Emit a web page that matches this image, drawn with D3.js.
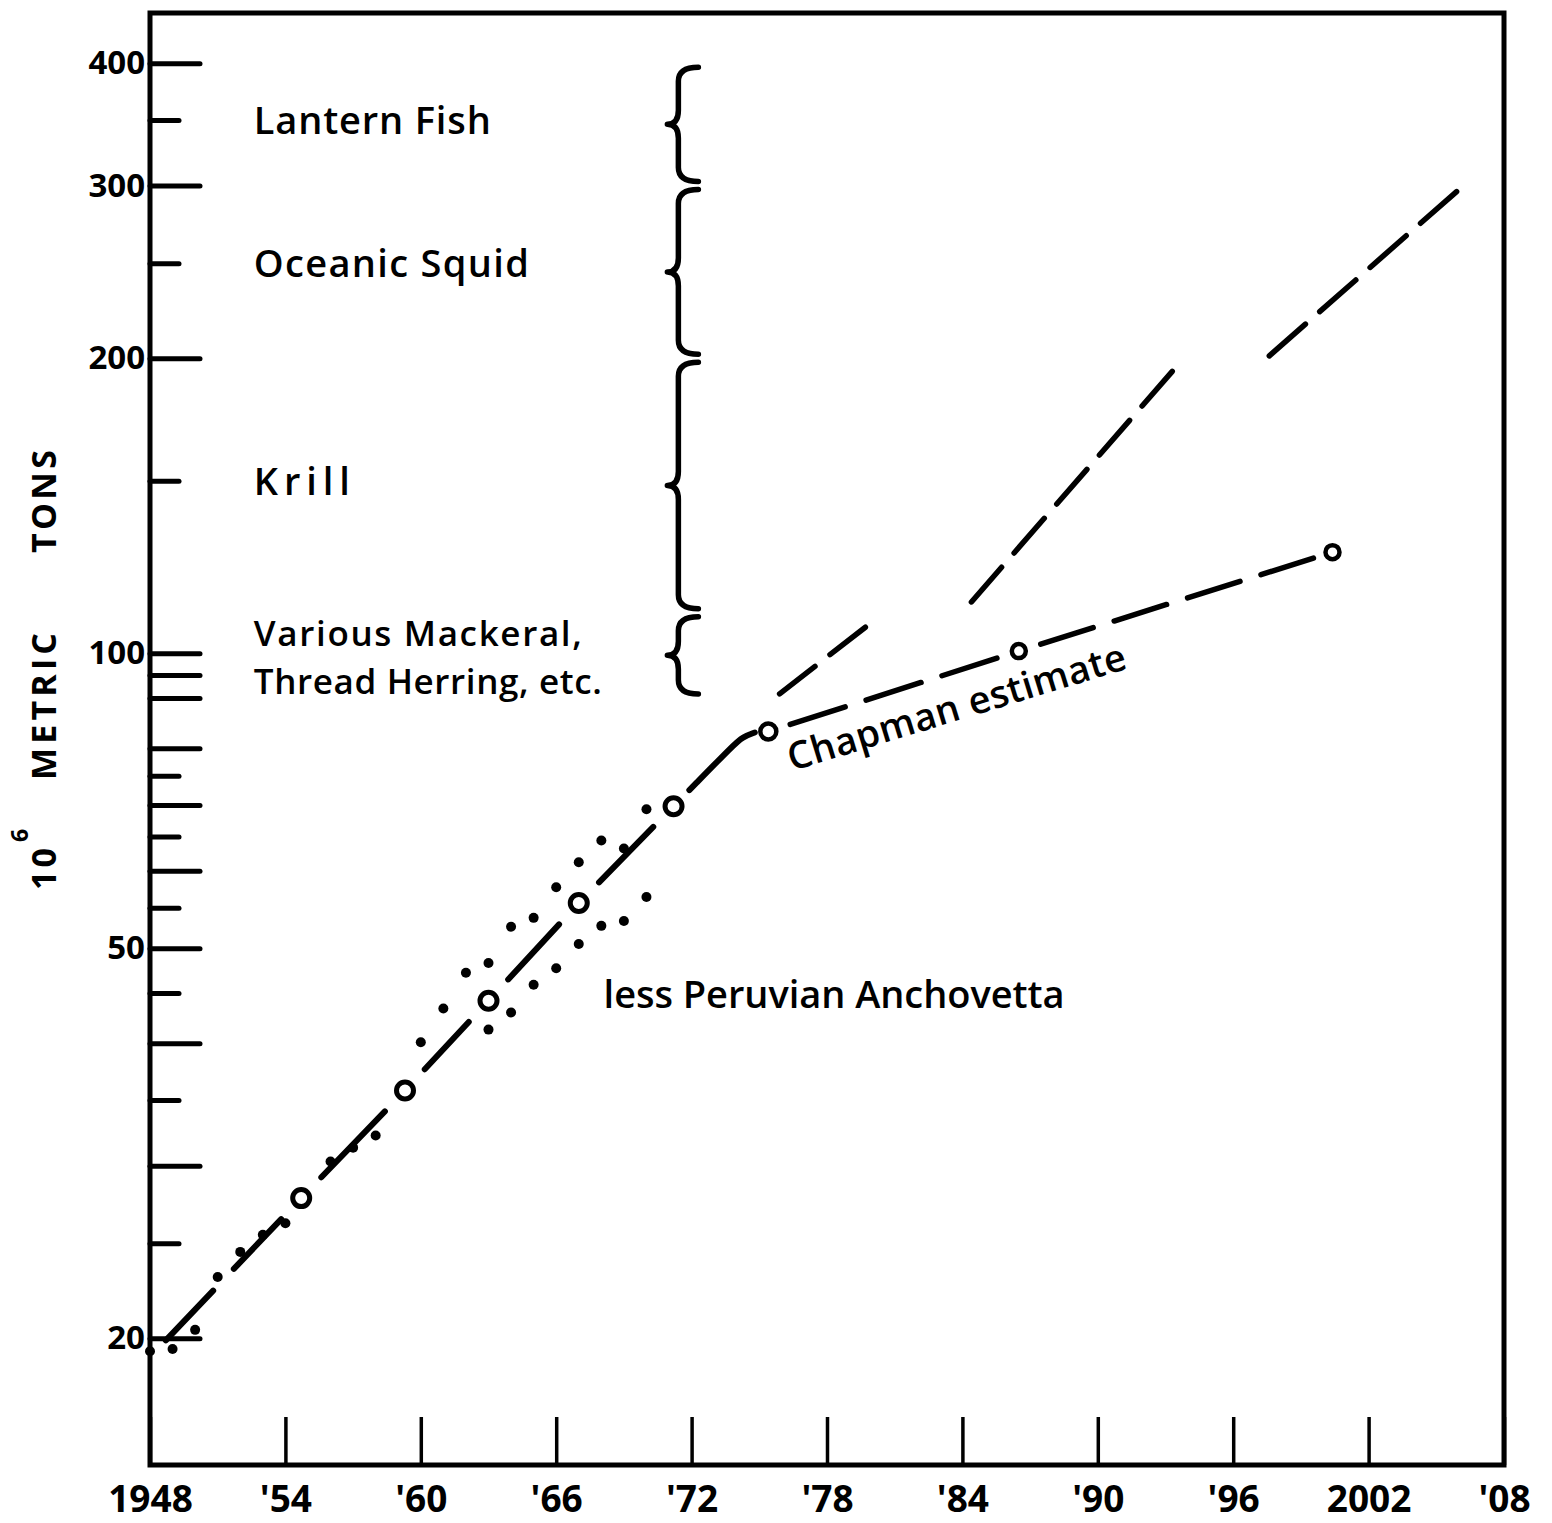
<!DOCTYPE html>
<html>
<head>
<meta charset="utf-8">
<script src="https://cdn.jsdelivr.net/npm/d3@7/dist/d3.min.js"></script>
<style>
    body { margin: 0; background: #fff; }
    text { fill: #000; }
</style>
</head>
<body>
<div class="chart"></div>
<script>
// World fish catch, 10^6 metric tons

// yearly catch dots (total)
var catchYears = [1948, 1949, 1950, 1951, 1952, 1953, 1954, 1956, 1957, 1958,
    1960, 1961, 1962, 1963, 1964, 1965, 1966, 1967, 1968, 1969, 1970]
var catchTotal = [19.4, 19.5, 20.4, 23.1, 24.5, 25.5, 26.2, 30.3, 31.3, 32.2,
    40.1, 43.4, 47.2, 48.3, 52.6, 53.7, 57.7, 61.2, 64.4, 63.2, 69.3]

// yearly catch less Peruvian anchovetta
var lessYears = [1963, 1964, 1965, 1966, 1967, 1968, 1969, 1970]
var lessAnchovetta = [41.3, 43.0, 45.9, 47.7, 50.5, 52.7, 53.3, 56.4]

// trend line and its circle markers
var trendYears = [1948.7, 1954.7, 1959.3, 1963.0, 1967.0, 1971.2]
var trendValues = [19.9, 27.8, 35.8, 44.2, 55.6, 69.8]
var bendYears = [1971.9, 1973.9, 1974.25, 1974.8]
var bendValues = [72.5, 80.8, 82.1, 83.0]

// Chapman estimate
var chapmanYears = [1975.4, 1986.5, 2000.4]
var chapmanValues = [83.2, 100.5, 126.8]

// upper projection, drawn as three runs
var projStartYears = [1975.9, 1984.4, 1997.6]
var projStartValues = [90.9, 112.8, 201.1]
var projEndYears = [1979.7, 1993.3, 2005.9]
var projEndValues = [106.3, 193.9, 295.8]

// potential resources (braces)
var groupNames = [['Lantern Fish'], ['Oceanic Squid'], ['Krill'], ['Various Mackeral,', 'Thread Herring, etc.']]
var groupLow = [300, 200, 110, 90]
var groupHigh = [400, 300, 200, 110]
var groupMid = [350, 250, 150, 99]

// axis ticks
var xTicks = [1948, 1954, 1960, 1966, 1972, 1978, 1984, 1990, 1996, 2002, 2008]
var xTickLabels = ['1948', "'54", "'60", "'66", "'72", "'78", "'84", "'90", "'96", '2002', "'08"]
var yLongTicks = [400, 300, 200, 100, 95, 90, 80, 70, 60, 50, 40, 30, 20]
var yShortTicks = [350, 250, 150, 75, 65, 55, 45, 35, 25]
var yTickLabels = [400, 300, 200, 100, 50, 20]

var FONT = "'Open Sans', 'DejaVu Sans', sans-serif"
// widths of the hand lettering
var labelWidth = {
    'Lantern Fish': 237,
    'Oceanic Squid': 275,
    'Krill': 96,
    'Various Mackeral,': 328,
    'Thread Herring, etc.': 348,
    'less Peruvian Anchovetta': 461,
    'Chapman estimate': 352
}

var svgWidth = 1552
var svgHeight = 1523

var svg = d3.select('.chart')
    .append('svg')
    .attr('width', svgWidth)
    .attr('height', svgHeight)

var x = d3.scaleLinear().domain([1948, 2008]).range([150, 1504])
var y = d3.scaleLog().domain([14.85, 450]).range([1465, 13])

// frame
svg.append('rect')
    .attr('x', x(1948))
    .attr('y', y(450))
    .attr('width', x(2008) - x(1948))
    .attr('height', y(14.85) - y(450))
    .attr('fill', 'none')
    .attr('stroke', '#000')
    .attr('stroke-width', 5)

// Y axis, long ticks with labels
var yAxisLong = svg.append('g')
    .attr('transform', `translate(${x(1948)}, 0)`)
    .call(d3.axisLeft(y)
        .tickValues(yLongTicks)
        .tickSizeInner(-50)
        .tickSizeOuter(0)
        .tickPadding(5)
        .tickFormat(d => yTickLabels.indexOf(d) >= 0 ? d : ''))
yAxisLong.select('.domain').remove()
yAxisLong.selectAll('line').attr('stroke', '#000').attr('stroke-width', 5).attr('stroke-linecap', 'round')
yAxisLong.selectAll('text')
    .attr('font-family', FONT)
    .attr('font-size', '33px')
    .attr('font-weight', 700)

// Y axis, short ticks
var yAxisShort = svg.append('g')
    .attr('transform', `translate(${x(1948)}, 0)`)
    .call(d3.axisLeft(y)
        .tickValues(yShortTicks)
        .tickSizeInner(-29)
        .tickSizeOuter(0)
        .tickFormat(''))
yAxisShort.select('.domain').remove()
yAxisShort.selectAll('line').attr('stroke', '#000').attr('stroke-width', 5).attr('stroke-linecap', 'round')

// X axis
var xAxis = svg.append('g')
    .attr('transform', `translate(0, ${y(14.85)})`)
    .call(d3.axisBottom(x)
        .tickValues(xTicks)
        .tickSizeInner(-48)
        .tickSizeOuter(0)
        .tickPadding(21)
        .tickFormat((d, i) => xTickLabels[i]))
xAxis.select('.domain').remove()
xAxis.selectAll('line').attr('stroke', '#000').attr('stroke-width', 3.5)
xAxis.selectAll('text')
    .attr('font-family', FONT)
    .attr('font-size', '37px')
    .attr('font-weight', 700)

// Y axis title
var yTitle = svg.append('g')
    .attr('transform', 'translate(56, 890) rotate(-90)')
    .attr('font-family', FONT)
    .attr('font-weight', 700)
yTitle.append('text').attr('x', 0).attr('y', 0)
    .attr('font-size', '34px').attr('textLength', 42).attr('lengthAdjust', 'spacing')
    .text('10')
yTitle.append('text').attr('x', 48).attr('y', -28)
    .attr('font-size', '23px')
    .text('6')
yTitle.append('text').attr('x', 110).attr('y', 0)
    .attr('font-size', '34px').attr('textLength', 147).attr('lengthAdjust', 'spacing')
    .text('METRIC')
yTitle.append('text').attr('x', 337).attr('y', 0)
    .attr('font-size', '34px').attr('textLength', 103).attr('lengthAdjust', 'spacing')
    .text('TONS')

// dashed segments between points, with gaps around the markers
function dashed(g, pts, o) {
    for (var i = 0; i < pts.length - 1; i++) {
        var a = pts[i], b = pts[i + 1]
        var dx = b[0] - a[0], dy = b[1] - a[1]
        var len = Math.hypot(dx, dy)
        var ux = dx / len, uy = dy / len
        var s = i === 0 ? o.startGap : o.markGap
        var e = i === pts.length - 2 ? o.endGap : o.markGap
        var L = len - s - e
        var n = Math.max(1, Math.round((L + o.gap) / (o.dash + o.gap)))
        var d = (L - (n - 1) * o.gap) / n
        for (var k = 0; k < n; k++) {
            var t0 = s + k * (d + o.gap), t1 = t0 + d
            g.append('line')
                .attr('x1', a[0] + ux * t0).attr('y1', a[1] + uy * t0)
                .attr('x2', a[0] + ux * t1).attr('y2', a[1] + uy * t1)
                .attr('stroke', '#000')
                .attr('stroke-width', o.width)
                .attr('stroke-linecap', 'round')
        }
    }
}

var lines = svg.append('g')

// trend line 1948-1971
var trendPts = trendYears.map((d, i) => [x(d), y(trendValues[i])])
dashed(lines, trendPts, { dash: 66, gap: 30, startGap: 0, markGap: 29, endGap: 29, width: 6 })

// bend into Chapman estimate
lines.append('path')
    .datum(bendYears.map((d, i) => [d, bendValues[i]]))
    .attr('d', d3.line().x(d => x(d[0])).y(d => y(d[1])).curve(d3.curveBasis))
    .attr('fill', 'none')
    .attr('stroke', '#000')
    .attr('stroke-width', 6)
    .attr('stroke-linecap', 'round')

// Chapman estimate
var chapPts = chapmanYears.map((d, i) => [x(d), y(chapmanValues[i])])
dashed(lines, chapPts, { dash: 55, gap: 22, startGap: 23, markGap: 23, endGap: 20, width: 5.5 })

// upper projection
projStartYears.forEach((d, i) => {
    dashed(lines, [[x(d), y(projStartValues[i])], [x(projEndYears[i]), y(projEndValues[i])]],
        { dash: 44, gap: 19, startGap: 0, markGap: 0, endGap: 0, width: 5.5 })
})

// circle markers
svg.append('g').selectAll('circle')
    .data(trendYears.slice(1).map((d, i) => [d, trendValues[i + 1]]))
    .enter().append('circle')
    .attr('cx', d => x(d[0]))
    .attr('cy', d => y(d[1]))
    .attr('r', 8.5)
    .attr('fill', '#fff')
    .attr('stroke', '#000')
    .attr('stroke-width', 5)

svg.append('g').selectAll('circle')
    .data(chapmanYears.map((d, i) => [d, chapmanValues[i]]))
    .enter().append('circle')
    .attr('cx', d => x(d[0]))
    .attr('cy', d => y(d[1]))
    .attr('r', (d, i) => i === 0 ? 8 : 7)
    .attr('fill', '#fff')
    .attr('stroke', '#000')
    .attr('stroke-width', 4.5)

// catch dots
svg.append('g').selectAll('circle')
    .data(catchYears.map((d, i) => [d, catchTotal[i]]))
    .enter().append('circle')
    .attr('cx', d => x(d[0]))
    .attr('cy', d => y(d[1]))
    .attr('r', 5)
    .attr('fill', '#000')

svg.append('g').selectAll('circle')
    .data(lessYears.map((d, i) => [d, lessAnchovetta[i]]))
    .enter().append('circle')
    .attr('cx', d => x(d[0]))
    .attr('cy', d => y(d[1]))
    .attr('r', 5)
    .attr('fill', '#000')

// braces for potential resources
var braceRight = x(1972.3)
var braceDepth = 31
groupLow.forEach((lo, i) => {
    var y0 = y(groupHigh[i]) + 4, y1 = y(lo) - 4
    var ym = (y0 + y1) / 2
    var xr = braceRight, xm = xr - 20, xt = xr - braceDepth
    var r = 14
    var p = d3.path()
    p.moveTo(xr, y0)
    p.quadraticCurveTo(xm, y0, xm, y0 + r)
    p.lineTo(xm, ym - r)
    p.quadraticCurveTo(xm, ym, xt, ym)
    p.quadraticCurveTo(xm, ym, xm, ym + r)
    p.lineTo(xm, y1 - r)
    p.quadraticCurveTo(xm, y1, xr, y1)
    svg.append('path')
        .attr('d', p.toString())
        .attr('fill', 'none')
        .attr('stroke', '#000')
        .attr('stroke-width', 5.5)
        .attr('stroke-linecap', 'round')
        .attr('stroke-linejoin', 'round')
})

// group labels; two-row labels a little smaller so rows do not collide
groupNames.forEach((rows, i) => {
    var cy = y(groupMid[i])
    var size = rows.length > 1 ? 35 : 38
    var lead = 48
    var top = cy + size * 0.37 - (rows.length - 1) / 2 * lead
    rows.forEach((t, k) => {
        svg.append('text')
            .attr('x', x(1952.6))
            .attr('y', top + k * lead)
            .attr('font-family', FONT)
            .attr('font-size', size + 'px')
            .attr('font-weight', 600)
            .attr('textLength', labelWidth[t])
            .attr('lengthAdjust', 'spacing')
            .text(t)
    })
})

// series annotations
svg.append('text')
    .attr('x', x(1968.1))
    .attr('y', y(43.5))
    .attr('font-family', FONT)
    .attr('font-size', '38px')
    .attr('font-weight', 600)
    .attr('textLength', labelWidth['less Peruvian Anchovetta'])
    .attr('lengthAdjust', 'spacing')
    .text('less Peruvian Anchovetta')

svg.append('text')
    .attr('transform', `translate(${x(1976.45)}, ${y(75.8)}) rotate(-17)`)
    .attr('font-family', FONT)
    .attr('font-size', '38px')
    .attr('font-weight', 600)
    .attr('textLength', labelWidth['Chapman estimate'])
    .attr('lengthAdjust', 'spacing')
    .text('Chapman estimate')
</script>
</body>
</html>
